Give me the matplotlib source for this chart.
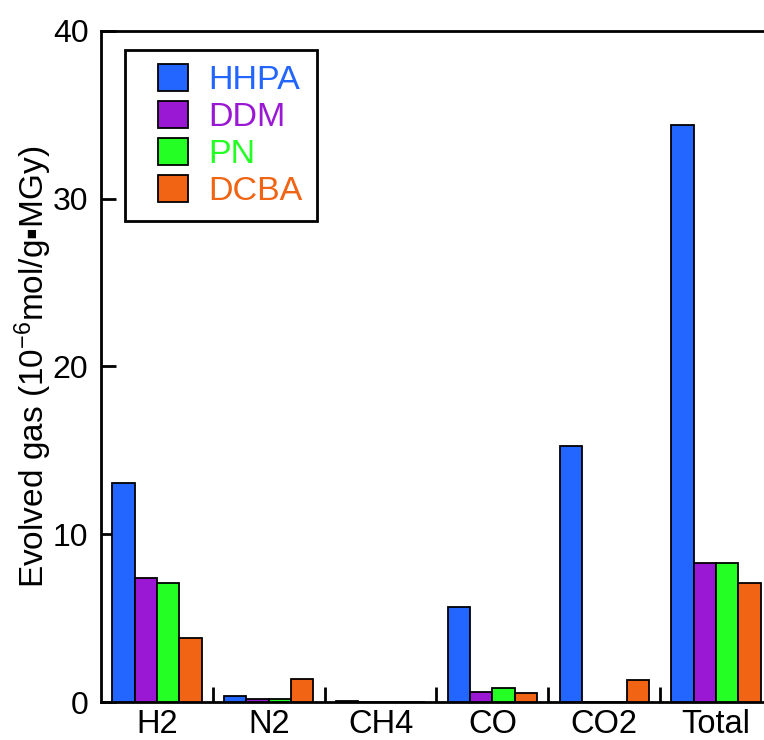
import matplotlib
matplotlib.use("Agg")
import matplotlib.pyplot as plt
from matplotlib.patches import Rectangle
from matplotlib.legend_handler import HandlerPatch
from matplotlib.container import BarContainer
import numpy as np

# Evolved gas per species, in 10^-6 mol/(g·MGy)
gases = ["H2", "N2", "CH4", "CO", "CO2", "Total"]
hhpa = [13.07, 0.34, 0.05, 5.64, 15.26, 34.40]
ddm = [7.37, 0.16, 0.0, 0.57, 0.02, 8.30]
pn = [7.07, 0.16, 0.0, 0.83, 0.02, 8.27]
dcba = [3.80, 1.35, 0.0, 0.52, 1.31, 7.07]
series_names = ["HHPA", "DDM", "PN", "DCBA"]
colors = ["#2266ff", "#9a18d4", "#24ff24", "#f06414"]

plt.rcParams["font.family"] = ["Liberation Sans", "DejaVu Sans"]
plt.rcParams["mathtext.fontset"] = "custom"
plt.rcParams["mathtext.rm"] = "Liberation Sans"
plt.rcParams["mathtext.it"] = "Liberation Sans"

W, H = 764, 740
fig = plt.figure(figsize=(W / 100, H / 100), dpi=100)
ax_l, ax_b, ax_w, ax_h = 101, 38, 671, 671
ax = fig.add_axes([ax_l / W, ax_b / H, ax_w / W, ax_h / H])

x = np.arange(len(gases)) + 0.5
bw = 0.2
offsets = [-1.5 * bw, -0.5 * bw, 0.5 * bw, 1.5 * bw]
for vals, name, col, off in zip([hhpa, ddm, pn, dcba], series_names, colors, offsets):
    ax.bar(x + off, vals, width=bw, color=col, edgecolor="black",
           linewidth=1.3, label=name, zorder=3)

ax.set_xlim(0, len(gases))
ax.set_ylim(0, 40)
ax.set_yticks([0, 10, 20, 30, 40])
ax.set_xticks(x)
ax.set_xticklabels(gases)
ax.set_xticks(np.arange(1, len(gases)), minor=True)

ax.tick_params(axis="x", which="major", length=0, pad=5, labelsize=23.5)
ax.tick_params(axis="x", which="minor", direction="in", length=11, width=2)
ax.tick_params(axis="y", which="major", direction="in", length=11, width=2,
               pad=9, labelsize=23)
ax.tick_params(axis="y", which="minor", left=False)

for s in ["left", "bottom", "top", "right"]:
    ax.spines[s].set_linewidth(2)

ax.set_ylabel(r"Evolved gas (10$^{-6}$mol/g" + "\u25aa" + "MGy)",
              fontsize=24, labelpad=-1)

# legend swatch: a square sitting at the right end of the handle box
SW = 30 * 0.72  # swatch width in points


def swatch(legend, orig_handle, xdescent, ydescent, width, height, fontsize):
    return Rectangle((-xdescent + width - SW, -ydescent), SW, height)


def style_from_bar(legend_handle, orig_handle):
    legend_handle.update_from(orig_handle.patches[0])


leg_fs = 24.5
leg = ax.legend(loc="upper left", bbox_to_anchor=(24 / ax_w, 1 - 19 / ax_h),
                fontsize=leg_fs, frameon=True, fancybox=False, framealpha=1,
                borderaxespad=0,
                handlelength=49 * 0.72 / leg_fs, handleheight=29 * 0.72 / leg_fs,
                handletextpad=0.62, labelspacing=0.14, borderpad=0.4,
                handler_map={BarContainer: HandlerPatch(patch_func=swatch,
                                                        update_func=style_from_bar)})
leg.get_frame().set_edgecolor("black")
leg.get_frame().set_linewidth(2)
for txt, col in zip(leg.get_texts(), colors):
    txt.set_color(col)

fig.savefig("out.png", dpi=100)
